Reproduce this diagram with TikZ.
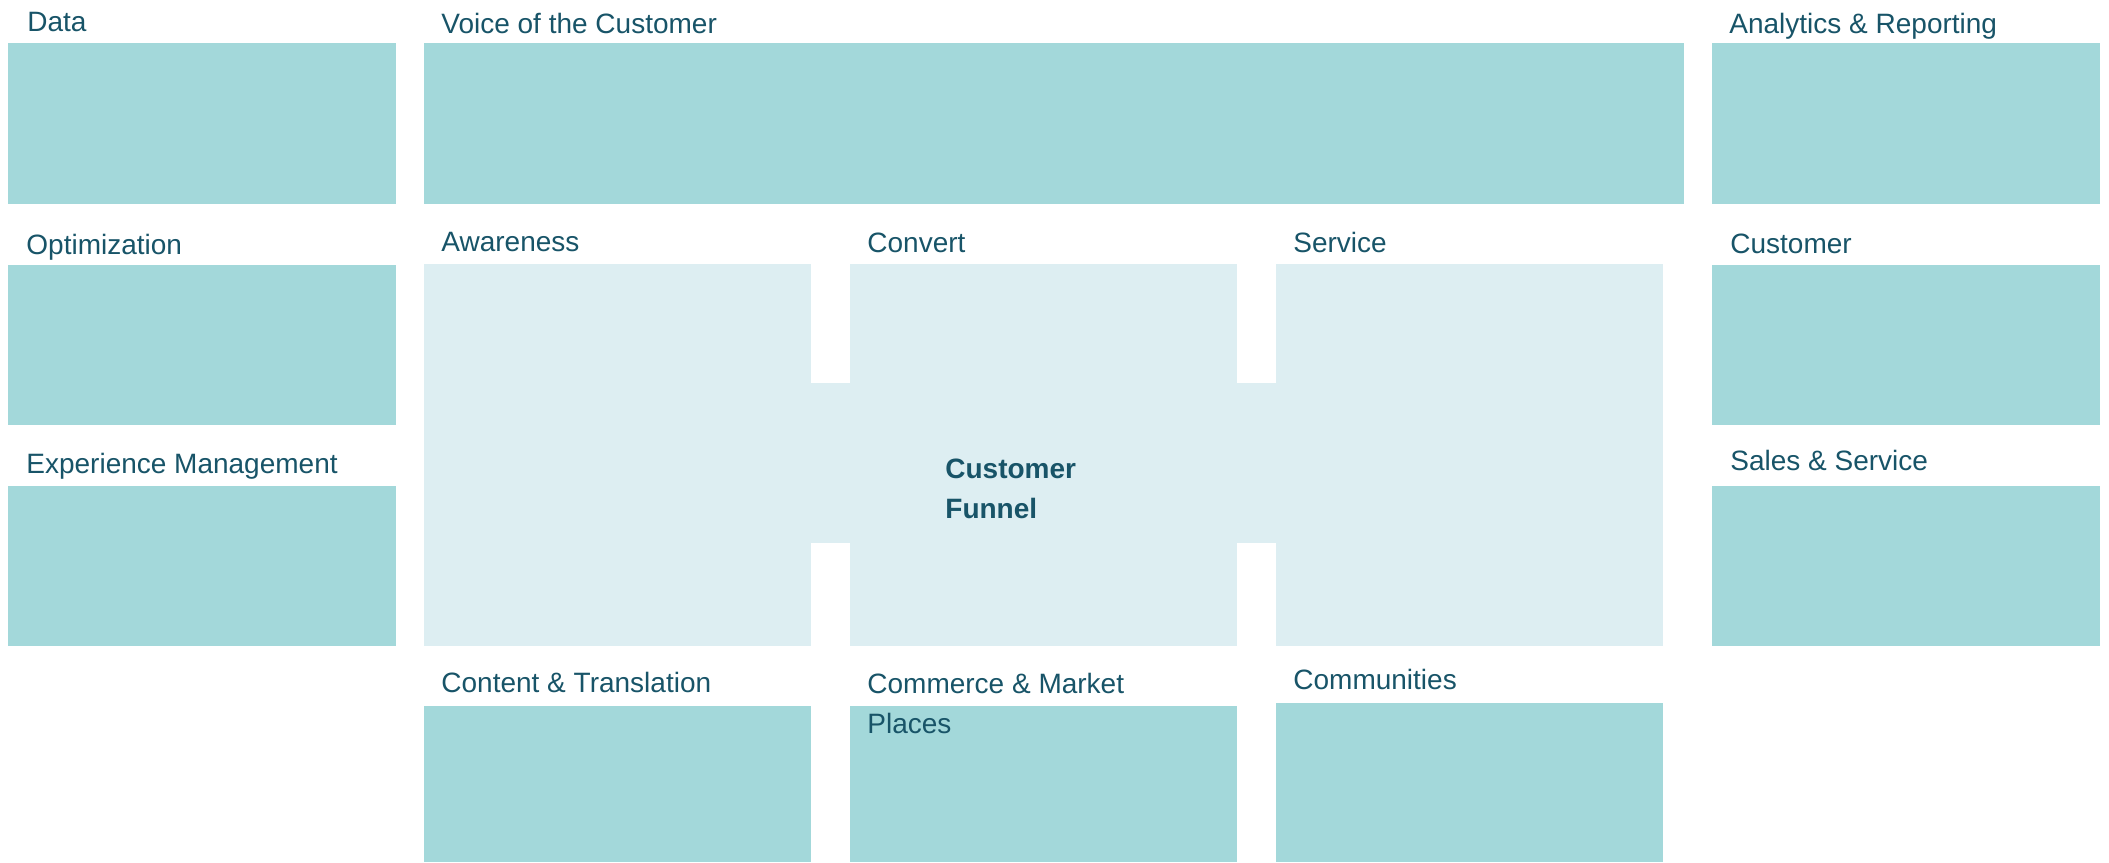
\documentclass[tikz,border=0pt]{standalone}
\usepackage{fontspec}
\setmainfont{Liberation Sans}
\usepackage{tikz}
\usetikzlibrary{positioning}

\definecolor{tealbox}{RGB}{163,216,218}
\definecolor{funnelbox}{RGB}{221,238,242}
\definecolor{labeltext}{RGB}{24,84,104}

\tikzset{
  area/.style={rectangle, fill=tealbox, inner sep=0, outer sep=0, anchor=north west,
    minimum width=194pt, minimum height=80pt},
  stage/.style={rectangle, fill=funnelbox, inner sep=0, outer sep=0, anchor=north west,
    minimum width=193.5pt, minimum height=191pt},
  bridge/.style={rectangle, fill=funnelbox, inner sep=0, outer sep=0, anchor=north west,
    minimum width=19.5pt, minimum height=80pt},
  lbl/.style={anchor=base west, inner sep=0, text=labeltext, align=left,
    font=\fontsize{14}{20}\selectfont},
}

\begin{document}
\begin{tikzpicture}[x=0.5pt, y=-0.5pt]
    \useasboundingbox (0,0) rectangle (2109,862);

    % Define top row
    \node[area, minimum height=80.5pt]		(data)		at (8,43) {};
    \node[area, minimum height=80.5pt, minimum width=630pt, right = 14pt of data]		(voice)		{};
    \node[area, minimum height=80.5pt, right = 14pt of voice]		(analytics)		{};

    % side boxes
    \node[area]		(optim)		at (8,265) {};
    \node[area, below = 30.5pt of optim]		(expmgmt)		{};
    \node[area]		(customer)		at (1712,265) {};
    \node[area, below = 30.5pt of customer]		(sales)		{};

    % funnel stages
    \node[stage]		(awareness)		at (424,264) {};
    \node[stage, right = 19.5pt of awareness]		(convert)		{};
    \node[stage, right = 19.5pt of convert]		(service)		{};
    \node[bridge]		(linkA)		at (811,383) {};
    \node[bridge]		(linkB)		at (1237,383) {};

    % bottom row
    \node[area, minimum width=193.5pt, minimum height=78pt, below = 30pt of awareness]		(content)		{};
    \node[area, minimum width=193.5pt, minimum height=78pt, below = 30pt of convert]		(commerce)		{};
    \node[area, minimum width=193.5pt, minimum height=79.5pt, below = 28.5pt of service]		(communities)		{};

    % add labels
    \node[lbl]		(datalbl)		at (27,32) {Data};
    \node[lbl]		(voicelbl)		at (441,33) {Voice of the Customer};
    \node[lbl]		(analyticslbl)		at (1729,33) {Analytics \& Reporting};
    \node[lbl]		(optimlbl)		at (26,254) {Optimization};
    \node[lbl]		(expmgmtlbl)		at (26,473) {Experience Management};
    \node[lbl]		(customerlbl)		at (1730,253) {Customer};
    \node[lbl]		(saleslbl)		at (1730,470) {Sales \& Service};
    \node[lbl]		(awarenesslbl)		at (441,251) {Awareness};
    \node[lbl]		(convertlbl)		at (867,252) {Convert};
    \node[lbl]		(servicelbl)		at (1293,252) {Service};
    \node[lbl]		(contentlbl)		at (441,692) {Content \& Translation};
    \node[lbl]		(commercelbl)		at (867,733) {Commerce \& Market\\Places};
    \node[lbl]		(communitieslbl)		at (1293,689) {Communities};
    \node[lbl, font=\fontsize{14}{20}\selectfont\bfseries]		(funnel)		at (945,518) {Customer\\Funnel};
\end{tikzpicture}
\end{document}
